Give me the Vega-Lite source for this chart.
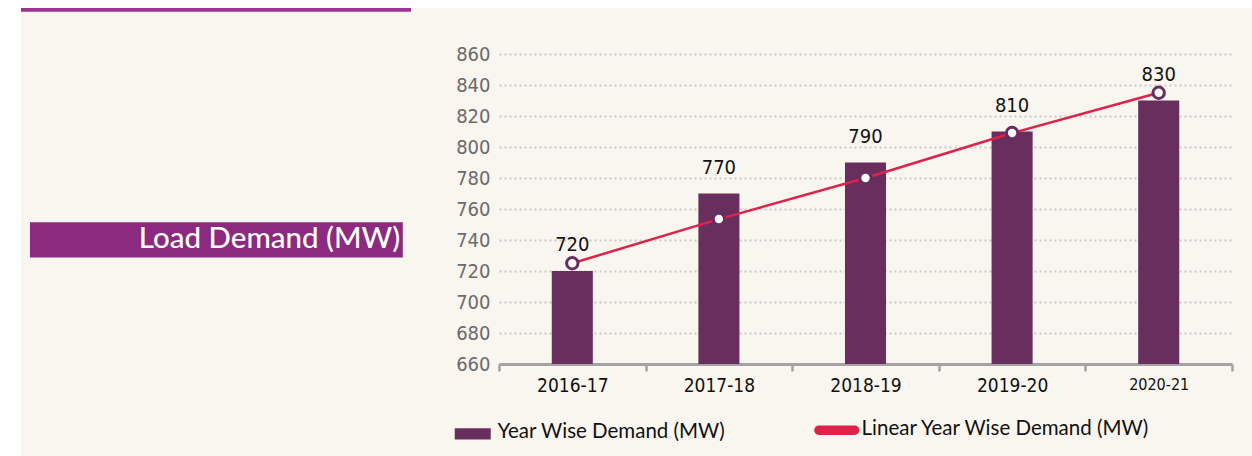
{
  "$schema": "https://vega.github.io/schema/vega-lite/v6.json",
  "autosize": {"type": "pad"},
  "padding": {"left": 19, "top": 8, "right": 0, "bottom": 0},
  "background": "#ffffff",
  "config": {
    "view": {"stroke": null},
    "axisY": {
      "title": null,
      "domain": false,
      "ticks": false,
      "tickCount": 11,
      "labelOverlap": false,
      "labelFont": "DejaVu Sans Condensed, sans-serif",
      "labelFontSize": 20,
      "labelColor": "#6b6b6b",
      "labelPadding": 9,
      "grid": true,
      "gridColor": "#c9c9c9",
      "gridDash": [2, 3],
      "gridWidth": 2
    }
  },
  "spacing": 88,
  "bounds": "flush",
  "resolve": {"scale": {"x": "independent", "y": "independent"}},
  "hconcat": [
    {
      "width": 390,
      "height": 310,
      "data": {"values": [{"title": "Load Demand (MW)"}]},
      "layer": [
        {
          "mark": {"type": "rect", "color": "#f9f5ef"},
          "encoding": {
            "x": {"datum": 0, "type": "quantitative", "scale": {"domain": [0, 1], "nice": false}, "axis": null},
            "x2": {"datum": 3.1615},
            "y": {"datum": 1.148, "type": "quantitative", "scale": {"domain": [0, 1], "nice": false}, "axis": null},
            "y2": {"datum": -0.2968}
          }
        },
        {
          "mark": {"type": "rule", "color": "#9c3291", "strokeWidth": 3.6},
          "encoding": {
            "x": {"datum": 0, "type": "quantitative"},
            "x2": {"datum": 1},
            "y": {"datum": 1.1423, "type": "quantitative"}
          }
        },
        {
          "mark": {"type": "rect", "color": "#8b2a7f"},
          "encoding": {
            "x": {"datum": 0.023, "type": "quantitative"},
            "x2": {"datum": 0.979},
            "y": {"datum": 0.3435, "type": "quantitative"},
            "y2": {"datum": 0.457}
          }
        },
        {
          "mark": {"type": "text", "align": "right", "baseline": "alphabetic", "font": "Lato", "fontSize": 29.5, "fontWeight": 500, "color": "#ffffff"},
          "encoding": {
            "x": {"datum": 0.972, "type": "quantitative"},
            "y": {"datum": 0.374, "type": "quantitative"},
            "text": {"field": "title", "type": "nominal"}
          }
        }
      ]
    },
    {
      "width": 733,
      "height": 310,
      "data": {
        "values": [
          {"year": "2016-17", "demand": 720, "trend": 725},
          {"year": "2017-18", "demand": 770, "trend": 753.5},
          {"year": "2018-19", "demand": 790, "trend": 780},
          {"year": "2019-20", "demand": 810, "trend": 809},
          {"year": "2020-21", "demand": 830, "trend": 835}
        ]
      },
      "encoding": {
        "x": {
          "field": "year",
          "type": "nominal",
          "sort": null,
          "scale": {"paddingInner": 0, "paddingOuter": 0},
          "axis": {
            "title": null,
            "tickBand": "extent",
            "domainColor": "#a3a3a3",
            "domainWidth": 3,
            "tickColor": "#a3a3a3",
            "tickWidth": 2.5,
            "tickSize": 7,
            "labelColor": "#111111",
            "labelFont": "DejaVu Sans Condensed, sans-serif",
            "labelFontSize": {"condition": {"test": "datum.value === '2020-21'", "value": 16}, "value": 19},
            "labelPadding": 5,
            "labelAngle": 0,
            "grid": false
          }
        }
      },
      "layer": [
        {
          "mark": {"type": "bar", "width": {"band": 0.28}, "clip": true},
          "encoding": {
            "y": {
              "field": "demand",
              "type": "quantitative",
              "title": null,
              "scale": {"domain": [660, 860], "nice": false, "zero": false},
              "axis": {"title": null, "values": [660, 680, 700, 720, 740, 760, 780, 800, 820, 840, 860], "labelOverlap": false}
            },
            "color": {
              "datum": "Year Wise Demand (MW)",
              "type": "nominal",
              "scale": {
                "domain": ["Year Wise Demand (MW)", "Linear Year Wise Demand (MW)"],
                "range": ["#682e5e", "#e0224a"]
              },
              "legend": {
                "title": null,
                "orient": "none",
                "legendX": 441.5,
                "legendY": 362.5,
                "direction": "horizontal",
                "symbolSize": 1600,
                "labelFont": "Lato",
                "labelFontSize": 20.5,
                "labelColor": "#111111",
                "labelLimit": 400,
                "labelOffset": 14.5,
                "columnPadding": 74,
                "encode": {
                  "labels": {
                    "update": {
                      "dy": {"signal": "datum.value === 'Year Wise Demand (MW)' ? -2 : 1.5"}
                    }
                  },
                  "symbols": {
                    "update": {
                      "shape": {"signal": "datum.value === 'Year Wise Demand (MW)' ? 'M-0.9,-0.28H0.9V0.28H-0.9Z' : 'M-0.89,0.15H0.89'"},
                      "size": {"value": 1600},
                      "fill": {"signal": "datum.value === 'Year Wise Demand (MW)' ? '#682e5e' : 'transparent'"},
                      "stroke": {"signal": "datum.value === 'Year Wise Demand (MW)' ? 'transparent' : '#e0224a'"},
                      "strokeWidth": {"signal": "datum.value === 'Year Wise Demand (MW)' ? 0 : 9.5"},
                      "strokeCap": {"value": "round"},
                      "opacity": {"value": 1},
                      "fillOpacity": {"value": 1},
                      "strokeOpacity": {"value": 1}
                    }
                  }
                }
              }
            }
          }
        },
        {
          "mark": {"type": "line", "strokeWidth": 2.5},
          "encoding": {
            "y": {"field": "trend", "type": "quantitative", "title": null, "axis": {"title": null, "values": [660, 680, 700, 720, 740, 760, 780, 800, 820, 840, 860], "labelOverlap": false}},
            "color": {"datum": "Linear Year Wise Demand (MW)", "type": "nominal"}
          }
        },
        {
          "mark": {"type": "point", "shape": "circle", "filled": true, "fill": "#ffffff", "stroke": "#682e5e", "strokeWidth": 3, "size": 130, "opacity": 1},
          "encoding": {
            "y": {"field": "trend", "type": "quantitative", "title": null, "axis": {"title": null, "values": [660, 680, 700, 720, 740, 760, 780, 800, 820, 840, 860], "labelOverlap": false}}
          }
        },
        {
          "mark": {"type": "text", "dy": -20, "baseline": "alphabetic", "font": "DejaVu Sans Condensed, sans-serif", "fontSize": 20, "color": "#111111"},
          "encoding": {
            "y": {"field": "demand", "type": "quantitative", "title": null, "axis": {"title": null, "values": [660, 680, 700, 720, 740, 760, 780, 800, 820, 840, 860], "labelOverlap": false}},
            "text": {"field": "demand", "type": "quantitative"}
          }
        }
      ]
    }
  ]
}
